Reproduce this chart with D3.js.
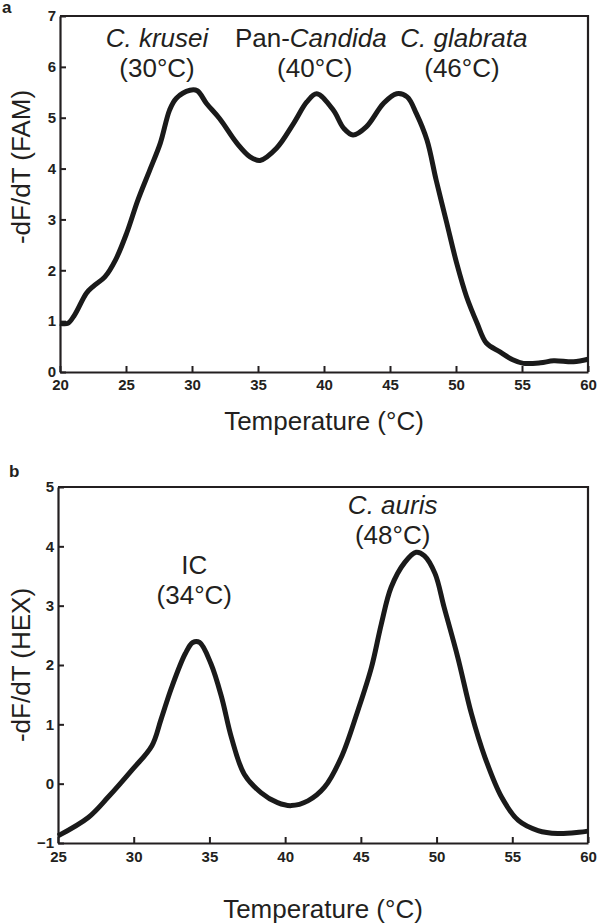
<!DOCTYPE html>
<html>
<head>
<meta charset="utf-8">
<script src="https://cdn.jsdelivr.net/npm/d3@7"></script>
<style>
  html, body { margin: 0; padding: 0; background: #fff; }
  svg { display: block; }
  text { font-family: "Liberation Sans", Arial, sans-serif; fill: #231f20; }
</style>
</head>
<body>
<script>
// ---- Data: panel a (FAM channel) ----
const famTemp = [20, 20.6, 21.1, 22.0, 22.5, 23.4, 24.2, 25.05, 25.9, 26.8, 27.6, 28.3, 28.8, 29.85, 30.4, 31.1, 32.1, 33.4, 34.4, 35.15, 36.4, 37.7, 38.7, 39.45, 40.7, 41.5, 42.2, 43.2, 44.5, 45.5, 46.3, 47.0, 47.8, 48.5, 49.3, 50.05, 50.8, 51.6, 52.3, 53.3, 54.3, 55.1, 56.4, 57.4, 58.9, 60];
const famValue = [0.96, 0.96, 1.12, 1.55, 1.68, 1.87, 2.2, 2.73, 3.38, 3.97, 4.5, 5.15, 5.38, 5.54, 5.53, 5.28, 4.98, 4.5, 4.23, 4.16, 4.4, 4.89, 5.31, 5.47, 5.15, 4.79, 4.66, 4.82, 5.28, 5.47, 5.41, 5.08, 4.56, 3.77, 2.93, 2.14, 1.48, 0.96, 0.57, 0.4, 0.24, 0.17, 0.18, 0.22, 0.2, 0.25];
const famXTicks = [20, 25, 30, 35, 40, 45, 50, 55, 60];
const famYTicks = [0, 1, 2, 3, 4, 5, 6, 7];
const famLabels = [
  { t: 27.35, t2: 27.35, line1: [{ s: "C. krusei", i: true }], line2: "(30°C)" },
  { t: 39.0, t2: 39.3, line1: [{ s: "Pan-", i: false }, { s: "Candida", i: true }], line2: "(40°C)" },
  { t: 50.6, t2: 50.45, line1: [{ s: "C. glabrata", i: true }], line2: "(46°C)" }
];

// ---- Data: panel b (HEX channel) ----
const hexTemp = [25, 27.0, 28.3, 29.85, 31.2, 31.8, 32.5, 33.4, 33.9, 34.35, 35.1, 35.8, 36.45, 37.3, 38.4, 39.5, 40.4, 41.5, 42.6, 43.7, 44.8, 45.7, 46.35, 47.0, 47.9, 48.65, 49.2, 49.9, 50.5, 51.4, 52.3, 53.2, 54.3, 55.4, 56.7, 58.0, 59.4, 60];
const hexValue = [-0.88, -0.57, -0.23, 0.22, 0.64, 1.08, 1.62, 2.19, 2.38, 2.38, 2.02, 1.46, 0.78, 0.16, -0.15, -0.32, -0.37, -0.29, -0.06, 0.44, 1.23, 1.96, 2.69, 3.31, 3.73, 3.9, 3.84, 3.54, 2.97, 2.13, 1.18, 0.44, -0.23, -0.62, -0.79, -0.84, -0.82, -0.8];
const hexXTicks = [25, 30, 35, 40, 45, 50, 55, 60];
const hexYTicks = [-1, 0, 1, 2, 3, 4, 5];
const hexLabels = [
  { t: 34, t2: 34, line1: [{ s: "IC", i: false }], line2: "(34°C)" },
  { t: 47.1, t2: 47.1, line1: [{ s: "C. auris", i: true }], line2: "(48°C)" }
];

const W = 598, H = 923;
const svg = d3.select("body").append("svg").attr("width", W).attr("height", H);
const INK = "#231f20";
const BIG = "26px";

function panel(cfg) {
  const g = svg.append("g");
  const x = d3.scaleLinear().domain(cfg.xDomain).range([cfg.left, cfg.right]);
  const y = d3.scaleLinear().domain(cfg.yDomain).range([cfg.bottom, cfg.top]);

  const xa = g.append("g").attr("transform", `translate(0,${cfg.bottom})`)
    .call(d3.axisBottom(x).tickValues(cfg.xTicks).tickFormat(d3.format("d"))
      .tickSizeInner(-6).tickSizeOuter(0).tickPadding(cfg.xPad));
  const ya = g.append("g").attr("transform", `translate(${cfg.left},0)`)
    .call(d3.axisLeft(y).tickValues(cfg.yTicks).tickFormat(d3.format("d"))
      .tickSizeInner(-6).tickSizeOuter(0).tickPadding(4));
  [xa, ya].forEach(a => {
    a.select(".domain").attr("stroke", INK).attr("stroke-width", 2.2);
    a.selectAll(".tick line").attr("stroke", INK).attr("stroke-width", 2);
    a.selectAll(".tick text").style("font-family", '"Liberation Sans", Arial, sans-serif')
      .style("font-size", "15px").style("font-weight", "bold").attr("fill", INK);
  });
  g.append("path")
    .attr("d", `M${x.range()[0]},${y.range()[1]}H${x.range()[1]}V${y.range()[0]}`)
    .attr("fill", "none").attr("stroke", INK).attr("stroke-width", 2.2);

  const pts = cfg.temp.map((t, i) => [t, cfg.vals[i]]);
  g.append("path").datum(pts)
    .attr("d", d3.line().x(d => x(d[0])).y(d => y(d[1])).curve(d3.curveCatmullRom.alpha(0.5)))
    .attr("fill", "none").attr("stroke", "#1a1a1a").attr("stroke-width", 5)
    .attr("stroke-linejoin", "round").attr("stroke-linecap", "butt");

  cfg.labels.forEach((L, k) => {
    const t1 = g.append("text").attr("x", x(L.t)).attr("y", cfg.labelY[k])
      .attr("text-anchor", "middle").style("font-size", BIG);
    L.line1.forEach(p => t1.append("tspan").text(p.s).style("font-style", p.i ? "italic" : "normal"));
    g.append("text").attr("x", x(L.t2)).attr("y", cfg.labelY[k] + 30)
      .attr("text-anchor", "middle").style("font-size", BIG).text(L.line2);
  });

  g.append("text").attr("x", (cfg.left + cfg.right) / 2).attr("y", cfg.xTitleY)
    .attr("text-anchor", "middle").style("font-size", BIG).text("Temperature (°C)");
  g.append("text").attr("transform", `translate(30,${cfg.yTitleCY}) rotate(-90)`)
    .attr("text-anchor", "middle").style("font-size", BIG).text(cfg.yTitle);
  g.append("text").attr("x", cfg.letterX).attr("y", cfg.letterY)
    .style("font-size", "17px").style("font-weight", "bold").text(cfg.letter);
}

panel({
  xDomain: [20, 60], yDomain: [0, 7], left: 60, right: 588, top: 16, bottom: 372,
  xTicks: famXTicks, yTicks: famYTicks, xPad: 7,
  temp: famTemp, vals: famValue, labels: famLabels,
  labelY: [47, 47, 47],
  xTitleY: 430, yTitleCY: 167, yTitle: "-dF/dT (FAM)",
  letter: "a", letterX: 2, letterY: 13
});

panel({
  xDomain: [25, 60], yDomain: [-1, 5], left: 58, right: 588, top: 487, bottom: 843,
  xTicks: hexXTicks, yTicks: hexYTicks, xPad: 8,
  temp: hexTemp, vals: hexValue, labels: hexLabels,
  labelY: [574, 514],
  xTitleY: 918, yTitleCY: 665, yTitle: "-dF/dT (HEX)",
  letter: "b", letterX: 9, letterY: 477
});
</script>
</body>
</html>
